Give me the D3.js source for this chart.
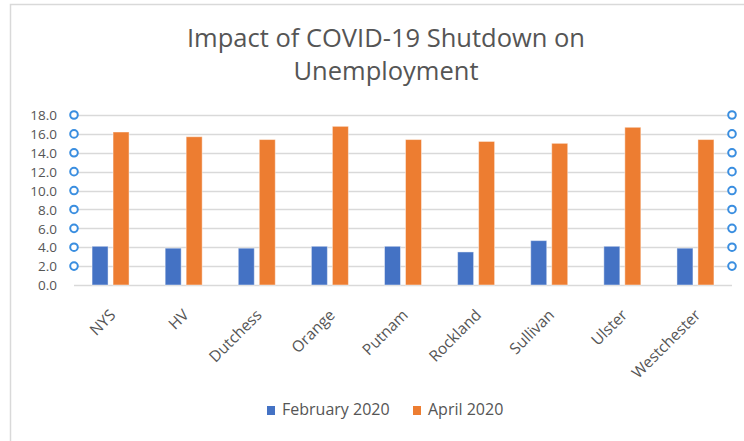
<!DOCTYPE html>
<html>
<head>
<meta charset="utf-8">
<script src="https://cdn.jsdelivr.net/npm/d3@7"></script>
<style>
  html, body { margin: 0; padding: 0; background: #fff; }
  svg { display: block; font-family: "Open Sans", sans-serif; }
</style>
</head>
<body>
<svg id="chart" width="744" height="441"></svg>
<script>
// Unemployment rate (%) by area, before and after the shutdown
const categories = ["NYS", "HV", "Dutchess", "Orange", "Putnam", "Rockland", "Sullivan", "Ulster", "Westchester"];
const february2020 = [4.1, 3.9, 3.9, 4.1, 4.1, 3.5, 4.7, 4.1, 3.9];
const april2020 = [16.2, 15.7, 15.4, 16.8, 15.4, 15.2, 15.0, 16.7, 15.4];
const seriesNames = ["February 2020", "April 2020"];
const seriesColors = ["#4472c4", "#ed7d31"];
const yTicks = [0, 2, 4, 6, 8, 10, 12, 14, 16, 18];

const svg = d3.select("#chart");
const textColor = "#555555";
const gridColor = "#d9d9d9";

// chart frame edges
svg.append("path")
  .attr("d", "M10.5,441 V4.5 H744")
  .attr("fill", "none")
  .attr("stroke", gridColor)
  .attr("stroke-width", 1.5);

// title
const title = svg.append("text")
  .attr("x", 386)
  .attr("text-anchor", "middle")
  .attr("fill", textColor)
  .attr("font-size", 25.5);
title.append("tspan").attr("x", 386).attr("y", 47).text("Impact of COVID-19 Shutdown on");
title.append("tspan").attr("x", 386).attr("y", 80).text("Unemployment");

const plot = { left: 74, right: 732, top: 115, bottom: 285 };

const y = d3.scaleLinear().domain([0, 18]).range([plot.bottom, plot.top]);
const x0 = d3.scaleBand().domain(categories).range([plot.left, plot.right]).paddingInner(0.494).paddingOuter(0.247);
const x1 = d3.scaleBand().domain(seriesNames).range([0, x0.bandwidth()]).paddingInner(0.238);

// gridlines
svg.append("g")
  .selectAll("line")
  .data(yTicks)
  .join("line")
  .attr("x1", plot.left)
  .attr("x2", plot.right)
  .attr("y1", d => Math.round(y(d)) + 0.5)
  .attr("y2", d => Math.round(y(d)) + 0.5)
  .attr("stroke", gridColor)
  .attr("stroke-width", d => d === 0 ? 1.6 : 1.4);

// y axis labels
const yAxis = d3.axisLeft(y).tickValues(yTicks).tickFormat(d3.format(".1f")).tickSize(0).tickPadding(0);
const yG = svg.append("g").attr("transform", "translate(57,0)").call(yAxis);
yG.select(".domain").remove();
yG.selectAll("text").attr("fill", textColor).attr("font-size", 13.5)
  .attr("font-family", "Open Sans, sans-serif").attr("dy", "0.35em");

// bars
const rows = categories.map((c, i) => ({ category: c, values: [february2020[i], april2020[i]] }));
const groups = svg.append("g")
  .selectAll("g")
  .data(rows)
  .join("g")
  .attr("transform", d => `translate(${x0(d.category)},0)`);
groups.selectAll("rect")
  .data(d => d.values.map((v, k) => ({ key: seriesNames[k], value: v, color: seriesColors[k] })))
  .join("rect")
  .attr("x", d => x1(d.key))
  .attr("width", x1.bandwidth())
  .attr("y", d => y(d.value))
  .attr("height", d => y(0) - y(d.value))
  .attr("fill", d => d.color)
  .attr("stroke", "#ffffff")
  .attr("stroke-opacity", 0.45)
  .attr("stroke-width", 1);

// x axis labels, rotated
const xAxis = d3.axisBottom(x0).tickSize(0).tickPadding(0);
const xG = svg.append("g").attr("transform", `translate(0,${plot.bottom})`).call(xAxis);
xG.select(".domain").remove();
xG.selectAll(".tick text")
  .attr("fill", textColor)
  .attr("font-size", 15.5)
  .attr("font-family", "Open Sans, sans-serif")
  .attr("text-anchor", "end")
  .attr("dy", null)
  .attr("y", null)
  .attr("transform", "translate(6,31) rotate(-45)");

// axis handles on both sides of the value axis
const handleTicks = yTicks.filter(d => d > 0);
[plot.left, plot.right].forEach(cx => {
  svg.append("g")
    .selectAll("circle")
    .data(handleTicks)
    .join("circle")
    .attr("cx", cx)
    .attr("cy", d => y(d))
    .attr("r", 3.8)
    .attr("fill", "#ffffff")
    .attr("stroke", "#3a8ee0")
    .attr("stroke-width", 2);
});

// legend
const legend = svg.append("g");
const legendX = [267, 413];
seriesNames.forEach((name, k) => {
  legend.append("rect")
    .attr("x", legendX[k]).attr("y", 406)
    .attr("width", 8).attr("height", 9)
    .attr("fill", seriesColors[k]);
  legend.append("text")
    .attr("x", legendX[k] + 15).attr("y", 415)
    .attr("fill", textColor)
    .attr("font-size", 16)
    .text(name);
});
</script>
</body>
</html>
